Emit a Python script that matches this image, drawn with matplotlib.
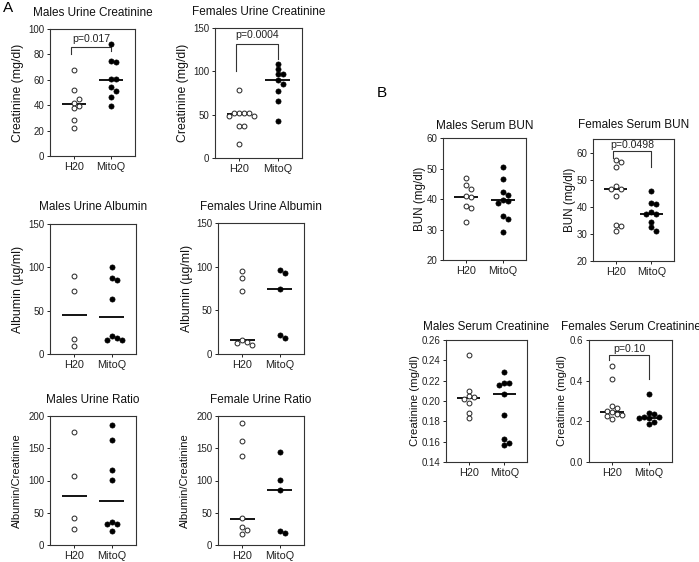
import matplotlib
matplotlib.use('Agg')
import matplotlib.pyplot as plt
from matplotlib.ticker import FormatStrFormatter
import numpy as np

plt.rcParams['font.family'] = ['Liberation Sans', 'DejaVu Sans']

# ---------------- data ----------------
groups = ['H20', 'MitoQ']

m_ucr_h20 = [67.6, 51.6, 41.8, 44.7, 39.7, 37.9, 28.7, 21.8]
m_ucr_mitoq = [87.9, 74.5, 73.7, 61.0, 60.3, 54.7, 51.0, 46.6, 39.2]
m_ucr_center = [41, 60]
m_ucr_sig = ['p=0.017', 91.8, 86.0, 80.3, 82.9]

f_ucr_h20 = [78.8, 51.9, 51.9, 51.9, 51.9, 48.8, 48.0, 37.3, 36.5, 16.5]
f_ucr_mitoq = [108.8, 102.3, 96.5, 96.5, 90.4, 85.0, 77.3, 65.8, 42.7]
f_ucr_center = [50.8, 90.4]
f_ucr_sig = ['p=0.0004', 142.3, 131.9, 100.4, 113.8]

m_alb_h20 = [89.6, 72.3, 17.2, 9.2]
m_alb_mitoq = [100.4, 88.0, 85.0, 63.8, 20.2, 19.0, 15.6, 15.6]
m_alb_center = [45, 43]

f_alb_h20 = [95.0, 87.3, 72.7, 15.6, 13.7, 12.6, 10.3]
f_alb_mitoq = [95.8, 93.0, 74.2, 22.0, 18.3]
f_alb_center = [15.8, 74]

m_ratio_h20 = [175.9, 107.7, 42.6, 24.6]
m_ratio_mitoq = [186, 162.6, 117, 101, 35.4, 33.3, 32.3, 21.5]
m_ratio_center = [75.4, 68.2]

f_ratio_h20 = [189.7, 161.5, 138, 42, 27.2, 23.6, 17]
f_ratio_mitoq = [144.6, 101.5, 86, 22, 19]
f_ratio_center = [41, 86]

m_bun_h20 = [47.0, 44.6, 43.2, 41.0, 40.5, 37.8, 36.9, 32.5]
m_bun_mitoq = [50.4, 46.4, 42.4, 41.2, 39.8, 39.3, 38.7, 34.3, 33.5, 29.1]
m_bun_center = [40.6, 39.8]

f_bun_h20 = [57.4, 56.4, 54.5, 47.8, 46.6, 46.6, 44.1, 33.4, 32.75, 31.25]
f_bun_mitoq = [46.0, 41.5, 40.9, 38.0, 37.5, 37.5, 34.4, 32.5, 31.25]
f_bun_center = [46.6, 37.5]
f_bun_sig = ['p=0.0498', 62.7, 60.7, 58.0, 54.5]

m_scr_h20 = [0.245, 0.210, 0.205, 0.204, 0.2015, 0.198, 0.1885, 0.183]
m_scr_mitoq = [0.229, 0.218, 0.218, 0.216, 0.207, 0.186, 0.163, 0.159, 0.157]
m_scr_center = [0.203, 0.207]

f_scr_h20 = [0.472, 0.410, 0.275, 0.265, 0.252, 0.245, 0.235, 0.232, 0.228, 0.213]
f_scr_mitoq = [0.333, 0.240, 0.236, 0.222, 0.220, 0.217, 0.215, 0.198, 0.185]
f_scr_center = [0.248, 0.218]
f_scr_sig = ['p=0.10', 0.556, 0.526, 0.50, 0.41]

# ---------------- layout ----------------
W, H = 699, 562
fig = plt.figure(figsize=(W / 100, H / 100), dpi=100)

panels = [
    dict(box=(50, 135, 29, 156), title='Males Urine Creatinine', ty=13,
         ylabel='Creatinine (mg/dl)', ylx=18, ylfs=8.8, ylim=(0, 100),
         yticks=[0, 20, 40, 60, 80, 100], fmt='%d',
         data=(m_ucr_h20, m_ucr_mitoq), center=m_ucr_center, sig=m_ucr_sig),
    dict(box=(215, 302, 28, 158), title='Females Urine Creatinine', ty=12,
         ylabel='Creatinine (mg/dl)', ylx=183, ylfs=8.8, ylim=(0, 150),
         yticks=[0, 50, 100, 150], fmt='%d',
         data=(f_ucr_h20, f_ucr_mitoq), center=f_ucr_center, sig=f_ucr_sig),
    dict(box=(50, 136, 224, 354), title='Males Urine Albumin', ty=207,
         ylabel='Albumin (µg/ml)', ylx=18, ylfs=8.8, ylim=(0, 150),
         yticks=[0, 50, 100, 150], fmt='%d',
         data=(m_alb_h20, m_alb_mitoq), center=m_alb_center, sig=None),
    dict(box=(218, 304, 223, 354), title='Females Urine Albumin', ty=207,
         ylabel='Albumin (µg/ml)', ylx=187, ylfs=8.8, ylim=(0, 150),
         yticks=[0, 50, 100, 150], fmt='%d',
         data=(f_alb_h20, f_alb_mitoq), center=f_alb_center, sig=None),
    dict(box=(50, 136, 416, 545), title='Males Urine Ratio', ty=400,
         ylabel='Albumin/Creatinine', ylx=17, ylfs=8.0, ylim=(0, 200),
         yticks=[0, 50, 100, 150, 200], fmt='%d',
         data=(m_ratio_h20, m_ratio_mitoq), center=m_ratio_center, sig=None),
    dict(box=(218, 304, 416, 545), title='Female Urine Ratio', ty=400,
         ylabel='Albumin/Creatinine', ylx=185, ylfs=8.0, ylim=(0, 200),
         yticks=[0, 50, 100, 150, 200], fmt='%d',
         data=(f_ratio_h20, f_ratio_mitoq), center=f_ratio_center, sig=None),
    dict(box=(443, 526, 138, 260), title='Males Serum BUN', ty=126,
         ylabel='BUN (mg/dl)', ylx=420, ylfs=8.4, ylim=(20, 60),
         yticks=[20, 30, 40, 50, 60], fmt='%d',
         data=(m_bun_h20, m_bun_mitoq), center=m_bun_center, sig=None),
    dict(box=(593, 674, 139, 261), title='Females Serum BUN', ty=125,
         ylabel='BUN (mg/dl)', ylx=570, ylfs=8.4, ylim=(20, 65),
         yticks=[20, 30, 40, 50, 60], fmt='%d',
         data=(f_bun_h20, f_bun_mitoq), center=f_bun_center, sig=f_bun_sig),
    dict(box=(446, 527, 340, 462), title='Males Serum Creatinine', ty=327,
         ylabel='Creatinine (mg/dl)', ylx=415, ylfs=8.2, ylim=(0.14, 0.26),
         yticks=[0.14, 0.16, 0.18, 0.20, 0.22, 0.24, 0.26], fmt='%.2f',
         data=(m_scr_h20, m_scr_mitoq), center=m_scr_center, sig=None),
    dict(box=(589, 672, 340, 462), title='Females Serum Creatinine', ty=327,
         ylabel='Creatinine (mg/dl)', ylx=562, ylfs=8.2, ylim=(0, 0.6),
         yticks=[0, 0.2, 0.4, 0.6], fmt='%.1f',
         data=(f_scr_h20, f_scr_mitoq), center=f_scr_center, sig=f_scr_sig),
]


def swarm_x(ax, xc, vals, diam_px=4.7, step_px=5.0):
    trans = ax.transData
    inv = trans.inverted()
    x0pix = trans.transform((xc, 0))[0]
    cands = [0]
    for i in range(1, 12):
        cands += [i, -i]
    placed = []
    xs = []
    for v in vals:
        ypix = trans.transform((xc, v))[1]
        xp = x0pix
        for c in cands:
            xp = x0pix + c * step_px
            if all((xp - px) ** 2 + (ypix - py) ** 2 >= diam_px ** 2 for px, py in placed):
                break
        placed.append((xp, ypix))
        xs.append(inv.transform((xp, ypix))[0])
    return xs


for p in panels:
    l, r, t, b = p['box']
    ax = fig.add_axes([l / W, 1 - b / H, (r - l) / W, (b - t) / H])
    ax.set_xlim(-0.64, 1.64)
    ax.set_ylim(*p['ylim'])
    ax.set_yticks(p['yticks'])
    ax.yaxis.set_major_formatter(FormatStrFormatter(p['fmt']))
    ax.set_xticks([0, 1])
    ax.set_xticklabels(groups)
    ax.tick_params(axis='y', labelsize=7, length=2.5, width=0.7, pad=1.5, colors='#222222')
    ax.tick_params(axis='x', labelsize=7.8, length=2.5, width=0.7, pad=1.5, colors='#222222')
    for s in ax.spines.values():
        s.set_linewidth(0.8)
        s.set_color('#333333')

    h20, mq = p['data']
    xs0 = swarm_x(ax, 0, h20)
    xs1 = swarm_x(ax, 1, mq)
    ax.plot(xs0, h20, 'o', ms=3.5, mfc='white', mec='#222222', mew=0.7,
            linestyle='none', zorder=3, clip_on=False)
    ax.plot(xs1, mq, 'o', ms=3.7, mfc='black', mec='black', mew=0.5,
            linestyle='none', zorder=3, clip_on=False)
    for gx, cv in zip([0, 1], p['center']):
        ax.hlines(cv, gx - 0.33, gx + 0.33, color='black', lw=1.3, zorder=2)

    if p['sig'] is not None:
        txt, yt, ytop, yl, yr = p['sig']
        xl = -0.08
        ax.plot([xl, xl, 1, 1], [yl, ytop, ytop, yr], color='#333333', lw=0.8,
                clip_on=False)
        ax.text((xl + 1) / 2, yt, txt, ha='center', va='center', fontsize=7.6,
                color='#222222', clip_on=False)

    fig.text((l + r) / 2 / W, 1 - p['ty'] / H, p['title'], ha='center', va='center',
             fontsize=8.5, color='#111111')
    fig.text(p['ylx'] / W, 1 - (t + b) / 2 / H, p['ylabel'], ha='center', va='center',
             rotation=90, fontsize=p['ylfs'], color='#111111')

fig.text(8 / W, 1 - 8 / H, 'A', ha='center', va='center', fontsize=11)
fig.text(382 / W, 1 - 93 / H, 'B', ha='center', va='center', fontsize=11)

fig.savefig('out.png', dpi=100)
